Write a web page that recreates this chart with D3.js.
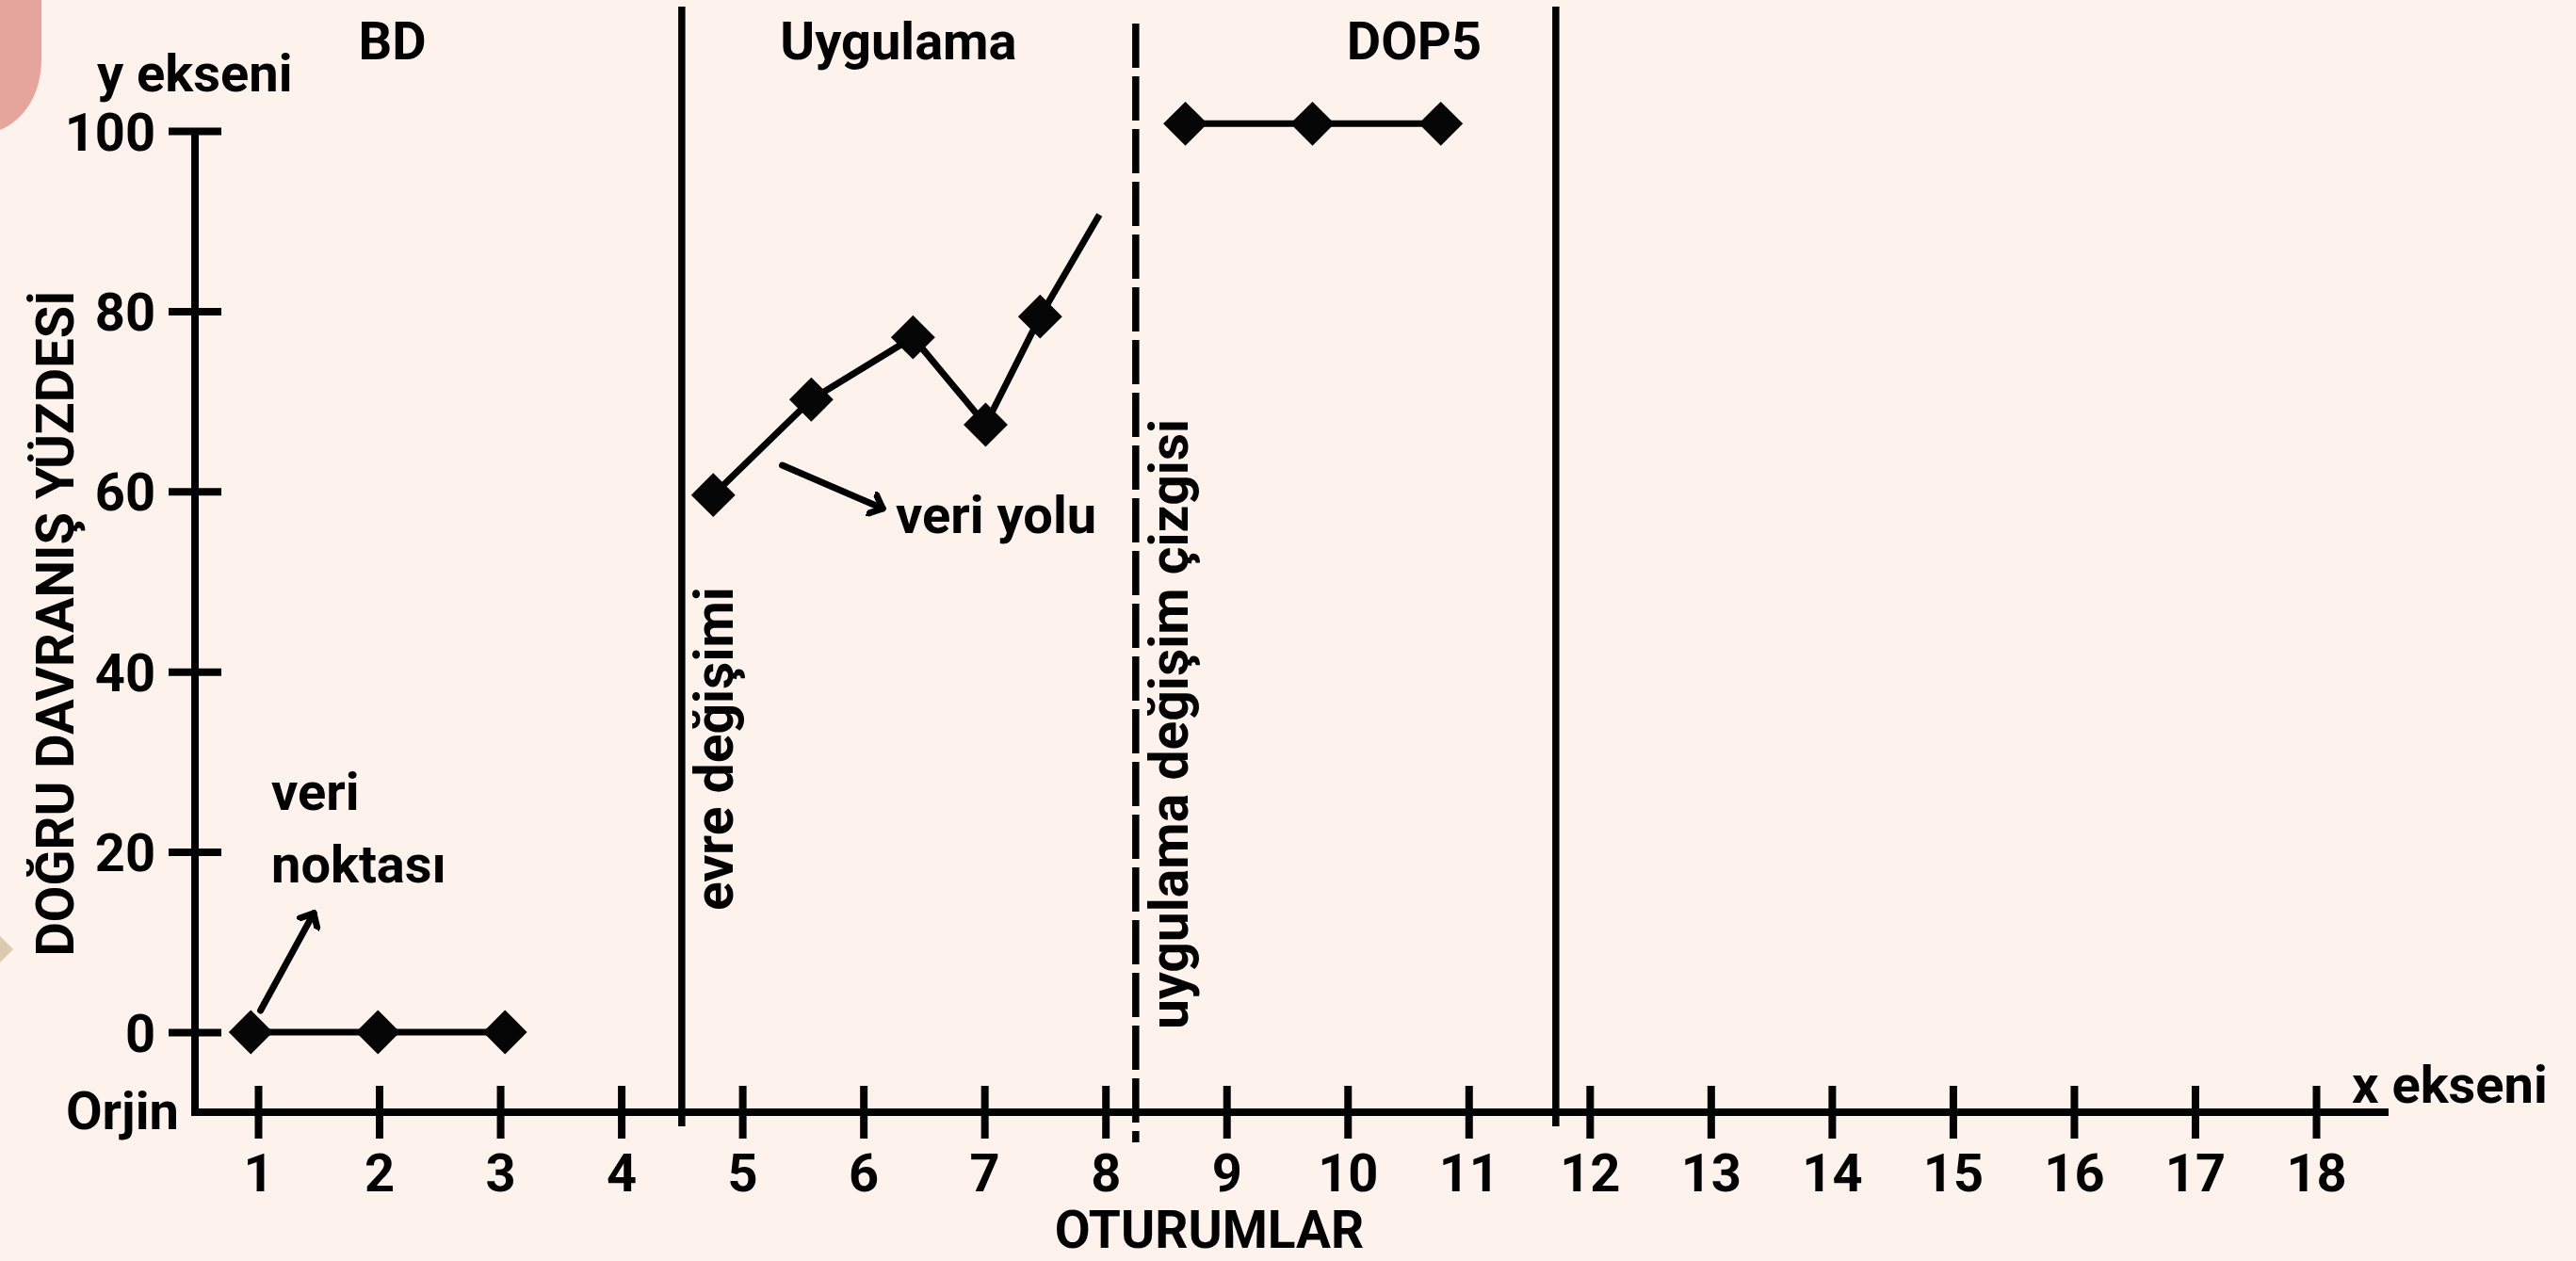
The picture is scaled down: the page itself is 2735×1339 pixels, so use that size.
<!DOCTYPE html>
<html>
<head>
<meta charset="utf-8">
<script src="https://cdn.jsdelivr.net/npm/d3@7"></script>
<style>
  body { margin: 0; background: #fdf3ec; }
  svg { display: block; }
  text { font-family: Roboto, sans-serif; font-weight: 700; fill: #000; }
</style>
</head>
<body>
<div class="chart"></div>
<script>
// sessions and y ticks
var sessions = [1, 2, 3, 4, 5, 6, 7, 8, 9, 10, 11, 12, 13, 14, 15, 16, 17, 18];
var percentTicks = [0, 20, 40, 60, 80, 100];

// phases
var phaseNames = ['BD', 'Uygulama', 'DOP5'];
var phaseCenters = [2.11, 6.29, 10.55];
var phaseLines = [4.5, 8.25, 11.72];
var phaseDashed = [false, true, false];

// data points
var bdX = [0.94, 1.99, 3.04];
var bdY = [0, 0, 0];
var uygX = [4.76, 5.57, 6.41, 7.01, 7.46, 7.95];
var uygY = [59.6, 70.2, 77.1, 67.4, 79.4, 90.7];
var uygMarked = [true, true, true, true, true, false];
var dopX = [8.66, 9.71, 10.77];
var dopY = [100.8, 100.8, 100.8];

var W = 2735, H = 1339;

var x = d3.scaleLinear().domain([1, 18]).range([274, 2459]);
var y = d3.scaleLinear().domain([0, 100]).range([1096, 139]);

var axisX0 = x(0.479);   // where the y axis stands
var axisY0 = 1181;       // where the x axis lies

var svg = d3.select('div.chart').append('svg')
    .attr('width', W)
    .attr('height', H);

svg.append('rect')
    .attr('width', W)
    .attr('height', H)
    .attr('fill', '#fdf3ec');

// background bits on the left edge
svg.append('path')
    .attr('d', 'M0,0 L44,0 L44,62 C44,102 24,128 0,138 Z')
    .attr('fill', '#e6a59c');
svg.append('path')
    .attr('d', 'M0,994 L14,1008 L0,1022 Z')
    .attr('fill', '#dccab0');

// phase change lines
svg.selectAll('line.phase')
  .data(phaseLines).enter().append('line')
    .attr('class', 'phase')
    .attr('x1', d => x(d))
    .attr('x2', d => x(d))
    .attr('y1', (d, i) => phaseDashed[i] ? 25 : 7)
    .attr('y2', (d, i) => phaseDashed[i] ? 1213 : 1196)
    .attr('stroke', '#000')
    .attr('stroke-width', 7.5)
    .attr('stroke-dasharray', (d, i) => phaseDashed[i] ? '47,9' : null);

svg.selectAll('text.phase')
  .data(phaseNames).enter().append('text')
    .attr('class', 'phase')
    .attr('x', (d, i) => x(phaseCenters[i]))
    .attr('y', 63)
    .attr('text-anchor', 'middle')
    .attr('font-size', 56)
    .text(d => d);

// x axis
var xAxis = svg.append('g')
    .attr('transform', 'translate(0,' + axisY0 + ')')
    .call(d3.axisBottom(x)
          .tickValues(sessions)
          .tickSize(28)
          .tickFormat(d3.format('d')));
xAxis.select('.domain').remove();
xAxis.selectAll('.tick line')
    .attr('y1', -28)
    .attr('stroke-width', 8);
xAxis.selectAll('.tick text')
    .attr('y', 84)
    .attr('dy', 0)
    .attr('font-size', 56)
    .attr('font-family', 'Roboto, sans-serif');

svg.append('line')
    .attr('x1', axisX0 - 4)
    .attr('x2', 2536)
    .attr('y1', axisY0)
    .attr('y2', axisY0)
    .attr('stroke', '#000')
    .attr('stroke-width', 8);

// y axis
var yAxis = svg.append('g')
    .attr('transform', 'translate(' + axisX0 + ',0)')
    .call(d3.axisLeft(y)
          .tickValues(percentTicks)
          .tickSize(28));
yAxis.select('.domain').remove();
yAxis.selectAll('.tick line')
    .attr('x1', 28)
    .attr('stroke-width', 8);
yAxis.selectAll('.tick text')
    .attr('x', -42)
    .attr('dy', '0.36em')
    .attr('font-size', 56)
    .attr('font-family', 'Roboto, sans-serif');

svg.append('line')
    .attr('x1', axisX0)
    .attr('x2', axisX0)
    .attr('y1', y(100) + 4)
    .attr('y2', axisY0 + 4)
    .attr('stroke', '#000')
    .attr('stroke-width', 8);

// axis labels
svg.append('text')
    .attr('x', 103)
    .attr('y', 97)
    .attr('font-size', 56)
    .text('y ekseni');
svg.append('text')
    .attr('x', 2497)
    .attr('y', 1171)
    .attr('font-size', 56)
    .text('x ekseni');
svg.append('text')
    .attr('x', 70)
    .attr('y', 1199)
    .attr('font-size', 56)
    .text('Orjin');
svg.append('text')
    .attr('x', 1284)
    .attr('y', 1325)
    .attr('text-anchor', 'middle')
    .attr('font-size', 55)
    .text('OTURUMLAR');
svg.append('text')
    .attr('transform', 'translate(78,662) rotate(-90)')
    .attr('text-anchor', 'middle')
    .attr('font-size', 56)
    .text('DOĞRU DAVRANIŞ YÜZDESİ');

// phase line captions
svg.append('text')
    .attr('transform', 'translate(' + (x(4.5) + 54) + ',967) rotate(-90)')
    .attr('font-size', 57)
    .text('evre değişimi');
svg.append('text')
    .attr('transform', 'translate(' + (x(8.25) + 55) + ',1093) rotate(-90)')
    .attr('font-size', 57)
    .text('uygulama değişim çizgisi');

// data paths
var line = d3.line()
    .x(d => x(d[0]))
    .y(d => y(d[1]));

var diamond = d3.symbol(d3.symbolSquare, 1100);

function drawSeries(xs, ys, marked) {
  var pts = xs.map((d, i) => [d, ys[i]]);
  svg.append('path')
      .datum(pts)
      .attr('d', line)
      .attr('fill', 'none')
      .attr('stroke', '#000')
      .attr('stroke-width', 7);
  svg.selectAll(null)
    .data(pts.filter((d, i) => !marked || marked[i])).enter().append('path')
      .attr('d', diamond)
      .attr('transform', d => 'translate(' + x(d[0]) + ',' + y(d[1]) + ') rotate(45)')
      .attr('fill', '#050505');
}

drawSeries(bdX, bdY);
drawSeries(uygX, uygY, uygMarked);
drawSeries(dopX, dopY);

// annotations
svg.append('defs').append('marker')
    .attr('id', 'head')
    .attr('viewBox', '-14 -14 28 28')
    .attr('markerWidth', 28)
    .attr('markerHeight', 28)
    .attr('markerUnits', 'userSpaceOnUse')
    .attr('orient', 'auto')
  .append('path')
    .attr('d', 'M-10,-9 L0,0 L-10,9')
    .attr('fill', 'none')
    .attr('stroke', '#000')
    .attr('stroke-width', 3)
    .attr('stroke-linecap', 'round')
    .attr('stroke-linejoin', 'round')
    .attr('transform', 'scale(2.3)');

var arrows = [
  [[1.02, 2.4], [1.46, 13.2]],
  [[5.33, 62.9], [6.16, 58.1]]
];
svg.selectAll('line.arrow')
  .data(arrows).enter().append('line')
    .attr('class', 'arrow')
    .attr('x1', d => x(d[0][0]))
    .attr('y1', d => y(d[0][1]))
    .attr('x2', d => x(d[1][0]))
    .attr('y2', d => y(d[1][1]))
    .attr('stroke', '#000')
    .attr('stroke-width', 7)
    .attr('stroke-linecap', 'round')
    .attr('marker-end', 'url(#head)');

svg.append('text')
    .attr('x', 288)
    .attr('y', 860)
    .attr('font-size', 56)
    .text('veri');
svg.append('text')
    .attr('x', 288)
    .attr('y', 937)
    .attr('font-size', 56)
    .text('noktası');
svg.append('text')
    .attr('x', 951)
    .attr('y', 566)
    .attr('font-size', 56)
    .text('veri yolu');
</script>
</body>
</html>
